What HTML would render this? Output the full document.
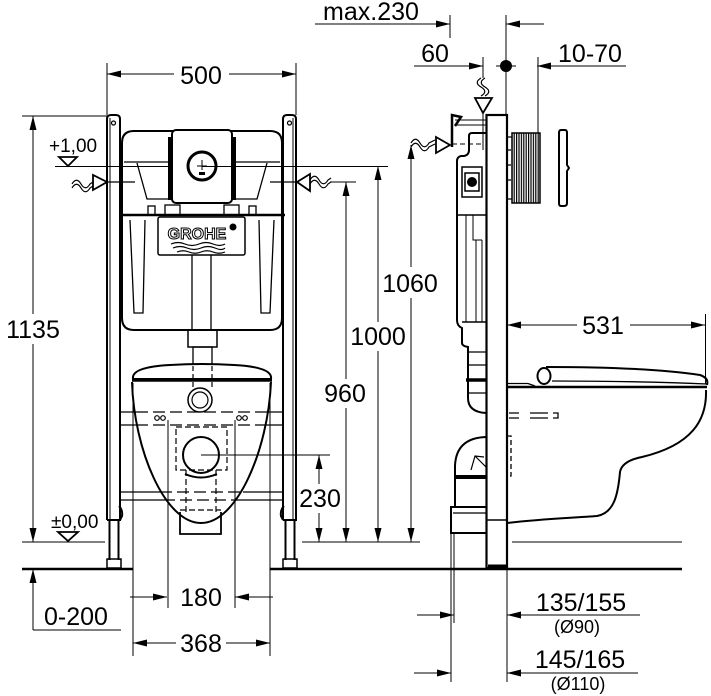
<!DOCTYPE html>
<html><head><meta charset="utf-8"><style>
html,body{margin:0;padding:0;background:#fff;}
svg{display:block;}
text{font-family:"Liberation Sans",Arial,sans-serif;fill:#000;stroke:none;}
</style></head><body>
<svg width="711" height="696" viewBox="0 0 711 696" xmlns="http://www.w3.org/2000/svg">
<defs>
<pattern id="rib" width="2.4" height="4" patternUnits="userSpaceOnUse"><rect width="1.2" height="4" fill="#000"/></pattern>
</defs>
<rect width="711" height="696" fill="#fff"/>
<g fill="none" stroke="#000" stroke-width="1">
<!-- ===== FRONT VIEW DIMENSIONS ===== -->
<!-- 500 -->
<line x1="107" y1="63" x2="107" y2="115"/>
<line x1="296" y1="63" x2="296" y2="115"/>
<line x1="107" y1="74" x2="174" y2="74"/>
<line x1="229" y1="74" x2="296" y2="74"/>
<!-- 1135 -->
<line x1="22" y1="116" x2="107" y2="116"/>
<line x1="33" y1="116" x2="33" y2="314"/>
<line x1="33" y1="344" x2="33" y2="542"/>
<line x1="22" y1="542" x2="105" y2="542"/>
<!-- +1,00 line -->
<line x1="55" y1="166.5" x2="388" y2="166.5"/>
<!-- 0-200 -->
<line x1="33" y1="569" x2="33" y2="630"/>
<line x1="33" y1="630" x2="121" y2="630"/>
<!-- right level lines -->
<line x1="302" y1="542" x2="420" y2="542"/>
<line x1="330" y1="182" x2="356" y2="182"/>
<!-- 230 -->
<line x1="201" y1="455" x2="330" y2="455"/>
<line x1="319" y1="455" x2="319" y2="484"/>
<line x1="319" y1="513" x2="319" y2="542"/>
<!-- 960 -->
<line x1="346" y1="182" x2="346" y2="379"/>
<line x1="346" y1="408" x2="346" y2="542"/>
<!-- 1000 -->
<line x1="378" y1="166" x2="378" y2="322"/>
<line x1="378" y1="351" x2="378" y2="542"/>
<!-- 1060 -->
<line x1="411" y1="145" x2="411" y2="267"/>
<line x1="411" y1="298" x2="411" y2="542"/>
<!-- 180 / 368 ext -->
<line x1="133" y1="383" x2="133" y2="656"/>
<line x1="270" y1="383" x2="270" y2="656"/>
<line x1="168" y1="420" x2="168" y2="608"/>
<line x1="235" y1="420" x2="235" y2="608"/>
<line x1="130" y1="597" x2="167" y2="597"/>
<line x1="235" y1="597" x2="273" y2="597"/>
<line x1="133" y1="643" x2="176" y2="643"/>
<line x1="226" y1="643" x2="270" y2="643"/>
</g>

<!-- arrowheads -->
<g fill="#000" stroke="none">
<polygon points="107,74 121,70.5 121,77.5"/>
<polygon points="296,74 282,70.5 282,77.5"/>
<polygon points="33,116 29.5,130 36.5,130"/>
<polygon points="33,542 29.5,528 36.5,528"/>
<polygon points="33,569 29.5,583 36.5,583"/>
<polygon points="167,597 153,593.5 153,600.5"/>
<polygon points="235,597 249,593.5 249,600.5"/>
<polygon points="133,643 147,639.5 147,646.5"/>
<polygon points="270,643 256,639.5 256,646.5"/>
<polygon points="319,455 315.5,469 322.5,469"/>
<polygon points="319,542 315.5,528 322.5,528"/>
<polygon points="346,182 342.5,196 349.5,196"/>
<polygon points="346,542 342.5,528 349.5,528"/>
<polygon points="378,166 374.5,180 381.5,180"/>
<polygon points="378,542 374.5,528 381.5,528"/>
<polygon points="411,145 407.5,159 414.5,159"/>
<polygon points="411,542 407.5,528 414.5,528"/>
<!-- side view arrows -->
<polygon points="450,24 436,20.5 436,27.5"/>
<polygon points="506,24 520,20.5 520,27.5"/>
<polygon points="483,66 469,62.5 469,69.5"/>
<polygon points="537,66 551,62.5 551,69.5"/>
<polygon points="507,325 521,321.5 521,328.5"/>
<polygon points="705,325 691,321.5 691,328.5"/>
<polygon points="454,615 440,611.5 440,618.5"/>
<polygon points="507,615 521,611.5 521,618.5"/>
<polygon points="451,673 437,669.5 437,676.5"/>
<polygon points="507,673 521,669.5 521,676.5"/>
</g>

<!-- level triangles -->
<g fill="#fff" stroke="#000" stroke-width="1.8">
<polygon points="59,157 77,157 68,166"/>
<polygon points="58,532 78,532 68,541"/>
</g>

<!-- floor -->
<g stroke="#000" stroke-width="2.5">
<line x1="22" y1="569" x2="133" y2="569"/>
<line x1="270" y1="569" x2="682" y2="569"/>
</g>

<!-- ===== FRONT VIEW FRAME ===== -->
<g fill="none" stroke="#000" stroke-width="2">
<path d="M107,520 V119 Q107,115 111,115 H116 Q120,115 120,119 V520"/>
<line x1="110" y1="118" x2="110" y2="520" stroke-width="1"/>
<path d="M109.5,520 V560 M118.5,520 V560"/>
<path d="M107,520 H121 M119,506 Q123,510 122,516 L120,520"/>
<rect x="107" y="559" width="14" height="9" stroke-width="1.5"/>
<path d="M283,520 V119 Q283,115 287,115 H292 Q296,115 296,119 V520"/>
<line x1="293" y1="118" x2="293" y2="520" stroke-width="1"/>
<path d="M285.5,520 V560 M294.5,520 V560"/>
<path d="M283,520 H297 M284,506 Q280,510 281,516 L283,520"/>
<rect x="283" y="559" width="14" height="9" stroke-width="1.5"/>
</g>
<circle cx="113.5" cy="123" r="2" fill="none" stroke="#000" stroke-width="1.2"/>
<circle cx="289.5" cy="123" r="2" fill="none" stroke="#000" stroke-width="1.2"/>

<!-- cross bars -->
<g stroke="#000" stroke-width="1.2" fill="none">
<path d="M120,412 H136 M267,412 H283 M120,425 H136 M267,425 H283"/>
<path d="M120,492 H160 M243,492 H283 M120,500 H163 M240,500 H283"/>
<path d="M136,412 H267 M136,425 H267 M160,492 H243 M163,500 H240" stroke-dasharray="12,5"/>
</g>

<!-- tank front -->
<g fill="none" stroke="#000" stroke-width="2">
<path d="M122,215 V143 Q122,131 134,131 H270 Q282,131 282,143 V215"/>
<path d="M122,215 V318 Q122,330 134,330 H270 Q282,330 282,318 V215"/>
<line x1="119" y1="215" x2="285" y2="215" stroke-width="2.5"/>
<path d="M124,162 H170 M137,163 L147,199 H170" stroke-width="1.3"/>
<path d="M280,162 H234 M267,163 L257,199 H234" stroke-width="1.3"/>
<path d="M130,220 L134,313 H143 L145,220" stroke-width="1.3"/>
<path d="M274,220 L270,313 H261 L259,220" stroke-width="1.3"/>
<path d="M192,255 V330 M211,255 V330" stroke-width="1.3"/>
<rect x="165" y="205" width="15" height="10" stroke-width="1.3"/>
<rect x="224" y="205" width="15" height="10" stroke-width="1.3"/>
<rect x="148" y="206" width="7" height="9" stroke-width="1.3"/>
<rect x="249" y="206" width="7" height="9" stroke-width="1.3"/>
<rect x="172" y="130" width="60" height="73" rx="4" fill="#fff"/>
<rect x="158" y="217" width="87" height="38" rx="2" stroke-width="1.5"/>
<rect x="188" y="330" width="29" height="17" stroke-width="1.5"/>
<rect x="193" y="347" width="19" height="19" stroke-width="1.3"/>
</g>
<rect x="168" y="137" width="4" height="63" fill="#000"/>
<rect x="232" y="137" width="4" height="63" fill="#000"/>
<line x1="202" y1="166.5" x2="232" y2="166.5" stroke="#000" stroke-width="1"/>
<circle cx="202" cy="166" r="14" fill="none" stroke="#000" stroke-width="3"/>
<path d="M202,160 V170 M197,166 H207" stroke="#000" stroke-width="1" fill="none"/>
<rect x="199" y="172" width="6" height="3" fill="#000"/>
<text x="197" y="239" font-size="16" font-weight="bold" text-anchor="middle" style="fill:#fff;stroke:#000;stroke-width:1;">GROHE</text>
<circle cx="233" cy="227" r="3.5" fill="#000"/>
<path d="M171,244 q7,-3 14,0 t14,0 t14,0 t12,0 M173,248 q7,-3 14,0 t14,0 t14,0 t10,0 M177,252 q6,-2.5 12,0 t12,0 t12,0 t12,0" fill="none" stroke="#000" stroke-width="1.2"/>

<!-- water inlets front -->
<g fill="none" stroke="#000" stroke-width="1.2">
<line x1="107" y1="182" x2="135" y2="182"/>
<line x1="270" y1="182" x2="297" y2="182"/>
<path d="M72,184 c3,-5 6,-5 9,0 s6,5 9,0 l3,-2"/>
<path d="M72,188 c3,-5 6,-5 9,0 s6,5 9,0 l3,-2"/>
<path d="M310,180 c3,-5 6,-5 9,0 s6,5 9,0 l3,-2"/>
<path d="M310,184 c3,-5 6,-5 9,0 s6,5 9,0 l3,-2"/>
</g>
<g fill="#fff" stroke="#000" stroke-width="1.8">
<polygon points="93,175 93,190 107,182"/>
<polygon points="310,174 310,191 297,182"/>
</g>

<!-- bowl front -->
<g fill="none" stroke="#000" stroke-width="2">
<path d="M133,379 Q131,367 170,365 Q202,363 234,365 Q273,367 271,379 Z" fill="#fff"/>
<line x1="132" y1="380.5" x2="272" y2="380.5" stroke-width="2.5"/>
<path d="M132,382 C134,450 165,523 201,523 C237,523 268,450 271,382"/>
<path d="M180,512 V534 H221 V512" stroke-width="1.8"/>
<circle cx="200" cy="400" r="12" stroke-width="1.5"/>
<circle cx="200" cy="400" r="8" stroke-width="1.2"/>
<circle cx="201" cy="455" r="18" stroke-width="2"/>
</g>
<g fill="none" stroke="#000" stroke-width="1.2">
<path d="M193,366 V388 M212,366 V388" stroke-dasharray="5,3"/>
<rect x="176" y="427" width="51" height="43" stroke-dasharray="6,3"/>
<path d="M186,470 V512 M216,470 V512 M180,510 H221" stroke-dasharray="6,3"/>
<circle cx="157" cy="418" r="2.3"/><circle cx="163" cy="418" r="2.3"/>
<circle cx="239" cy="418" r="2.3"/><circle cx="245" cy="418" r="2.3"/>
<path d="M185,474 Q201,481 217,474" stroke-width="2"/>
</g>

<!-- ===== SIDE VIEW ===== -->
<g fill="none" stroke="#000" stroke-width="1">
<!-- max.230 -->
<line x1="315" y1="24" x2="450" y2="24"/>
<line x1="450" y1="15" x2="450" y2="38"/>
<line x1="506" y1="24" x2="544" y2="24"/>
<line x1="506" y1="15" x2="506" y2="115"/>
<line x1="496" y1="66" x2="516" y2="66"/>
<!-- 60 -->
<line x1="414" y1="66" x2="483" y2="66"/>
<line x1="483" y1="57" x2="483" y2="78"/>
<!-- 10-70 -->
<line x1="537" y1="66" x2="626" y2="66"/>
<line x1="538" y1="57" x2="538" y2="133"/>
<!-- 531 -->
<line x1="507" y1="325" x2="577" y2="325"/>
<line x1="630" y1="325" x2="705" y2="325"/>
<line x1="705.5" y1="314" x2="705.5" y2="384"/>
<!-- bottom dims -->
<line x1="451" y1="533" x2="451" y2="682"/>
<line x1="454" y1="533" x2="454" y2="623"/>
<line x1="507" y1="569" x2="507" y2="682"/>
<line x1="417" y1="615" x2="454" y2="615"/>
<line x1="507" y1="615" x2="640" y2="615"/>
<line x1="414" y1="673" x2="451" y2="673"/>
<line x1="507" y1="673" x2="638" y2="673"/>
<line x1="512" y1="542" x2="682" y2="542"/>
<!-- inlet lines -->
<line x1="483" y1="113" x2="483" y2="150"/>
<path d="M452,144 H483" stroke-dasharray="5,3"/>
<path d="M455,120 H486 M455,125 H486"/>
</g>
<circle cx="506" cy="66" r="6" fill="#000"/>

<!-- side frame -->
<g fill="none" stroke="#000" stroke-width="2.2">
<rect x="486.5" y="115" width="20.5" height="453" fill="#fff"/>
<line x1="487" y1="520" x2="507" y2="520" stroke-width="1.5"/>
<line x1="488" y1="566" x2="506" y2="566" stroke-width="3"/>
</g>

<!-- side inlets -->
<g fill="none" stroke="#000" stroke-width="1.2">
<path d="M481,78 c-5,3 -5,6 0,9 s5,6 0,9"/>
<path d="M485,78 c-5,3 -5,6 0,9 s5,6 0,9"/>
<path d="M411,147 c3,-5 6,-5 9,0 s6,5 9,0 l6,-3"/>
<path d="M411,143 c3,-5 6,-5 9,0 s6,5 9,0 l6,-3"/>
</g>
<g fill="#fff" stroke="#000" stroke-width="1.8">
<polygon points="475,98 492,98 483,113"/>
<polygon points="436,137 436,153 450,145"/>
</g>
<path d="M452,147 V115 L461,117 L455,126" fill="none" stroke="#000" stroke-width="2.5"/>

<!-- side tank -->
<g fill="none" stroke="#000" stroke-width="2">
<path d="M486,133 H472 Q469,133 469,136 V150 Q469,155 464,156 H461 Q457,157 457,161 V320 Q457,326 462,328 V343 Q462,346 468,347 V398 Q468,412 486,413"/>
<rect x="462" y="167" width="20" height="30" stroke-width="1.5"/>
<line x1="457" y1="215" x2="486" y2="215" stroke-width="1.5"/>
<path d="M462,322 H486" stroke-width="1.5"/>
<path d="M466,215 V322 M473,215 V240 H482 M476,240 V322 M482,240 V322" stroke-width="1"/>
<path d="M468,352 H486 M468,365 H486 M468,393 H486" stroke-width="1.2"/>
<line x1="466" y1="380" x2="486" y2="380" stroke-width="3.5"/>
</g>
<rect x="465" y="173" width="14" height="18" fill="none" stroke="#000" stroke-width="1.5"/>
<circle cx="472" cy="182" r="5" fill="#000"/>

<!-- tile box & plate -->
<rect x="512" y="133" width="28" height="70" fill="url(#rib)" stroke="#000" stroke-width="1.5"/>
<path d="M507,137 H512 M507,199 H512 M507,150 H511 M507,165 H511 M507,180 H511" stroke="#000" stroke-width="1.2" fill="none"/>
<path d="M561,130 H565 Q567,130 567,133 V165 L569,168 L567,171 V203 Q567,206 564,206 H561 Q559,206 559,203 V133 Q559,130 561,130 Z" fill="#fff" stroke="#000" stroke-width="2"/>

<!-- side seat & bowl -->
<g fill="none" stroke="#000" stroke-width="2">
<path d="M546,367 C600,367 660,369 700,375 Q709,378 707,385"/>
<path d="M552,381 C610,381 660,382 707,384" stroke-width="1.3"/>
<line x1="507" y1="387" x2="707" y2="387" stroke-width="2.5"/>
<path d="M507,383.5 H528 L535,386" stroke-width="1.3"/>
<ellipse cx="544" cy="376" rx="6.5" ry="8" fill="#fff"/>
<path d="M706,390 C707,420 692,445 642,457 Q622,461 620,472 C618,495 614,513 597,516 C570,518 540,519 507,523"/>
</g>
<g fill="none" stroke="#000" stroke-width="1.3">
<path d="M509,413 H519 M509,418 H519 M530,413 H548 M530,418 H548 M553,413 H558 V418 H553"/>
<path d="M507,436 H511 V476 H507" stroke-dasharray="5,3"/>
</g>

<!-- waste pipe -->
<g fill="none" stroke="#000" stroke-width="2">
<path d="M486,437 Q456,438 455,466 V507"/>
<line x1="454" y1="477" x2="486" y2="477" stroke-width="4"/>
<path d="M486,507 H451 V533 H486"/>
<path d="M453,513 H486" stroke-width="1.2"/>
<path d="M471,470 L475,456 L484,457 M475,456 L486,467" stroke-width="1.2"/>
</g>

<!-- ===== TEXT ===== -->
<g font-size="25" text-anchor="middle">
<text x="201" y="84">500</text>
<text x="33" y="338">1135</text>
<text x="76" y="625">0-200</text>
<text x="201" y="606">180</text>
<text x="201" y="652">368</text>
<text x="320" y="507">230</text>
<text x="345" y="402">960</text>
<text x="378" y="345">1000</text>
<text x="410" y="292">1060</text>
<text x="371" y="20">max.230</text>
<text x="435" y="62">60</text>
<text x="590" y="62">10-70</text>
<text x="603" y="334">531</text>
<text x="581" y="611">135/155</text>
<text x="580" y="668">145/165</text>
</g>
<g font-size="18" text-anchor="middle">
<text x="577" y="633">(Ø90)</text>
<text x="578" y="690">(Ø110)</text>
</g>
<g font-size="19">
<text x="49" y="152">+1,00</text>
<text x="51" y="528">±0,00</text>
</g>
</svg>
</body></html>
